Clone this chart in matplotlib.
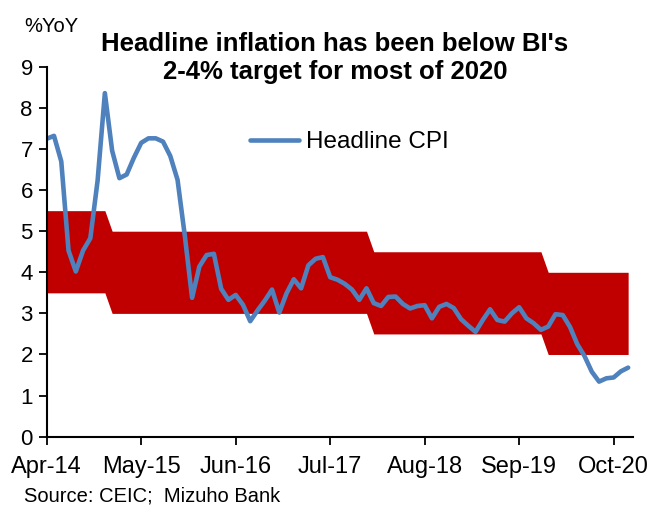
import numpy as np
import pandas as pd
import matplotlib
matplotlib.use("Agg")
import matplotlib.pyplot as plt

plt.rcParams['font.family'] = ['Liberation Sans', 'DejaVu Sans']

# ------------------------------
# Data: Indonesia headline CPI, %YoY, monthly Apr-14 .. Dec-20
# ------------------------------
months = pd.date_range("2014-04-01", periods=81, freq="MS")

cpi_2014 = [7.25, 7.32, 6.70, 4.53, 4.02, 4.53, 4.83, 6.23, 8.36]          # Apr-Dec
cpi_2015 = [6.96, 6.29, 6.38, 6.79, 7.15, 7.26, 7.26, 7.18, 6.83, 6.25, 4.89, 3.38]
cpi_2016 = [4.14, 4.42, 4.45, 3.60, 3.33, 3.45, 3.21, 2.81, 3.07, 3.31, 3.58, 3.02]
cpi_2017 = [3.49, 3.83, 3.61, 4.17, 4.33, 4.37, 3.88, 3.82, 3.72, 3.58, 3.33, 3.61]
cpi_2018 = [3.25, 3.18, 3.40, 3.41, 3.23, 3.12, 3.18, 3.20, 2.88, 3.16, 3.23, 3.13]
cpi_2019 = [2.86, 2.70, 2.55, 2.84, 3.10, 2.84, 2.80, 3.00, 3.15, 2.88, 2.76, 2.60]
cpi_2020 = [2.68, 2.98, 2.96, 2.67, 2.25, 1.96, 1.58, 1.34, 1.42, 1.44, 1.59, 1.68]
headline = cpi_2014 + cpi_2015 + cpi_2016 + cpi_2017 + cpi_2018 + cpi_2019 + cpi_2020

# BI inflation target band (lower / upper), per month
target_lo = [3.5] * 9 + [3.0] * 36 + [2.5] * 24 + [2.0] * 12
target_hi = [5.5] * 9 + [5.0] * 36 + [4.5] * 24 + [4.0] * 12

tick_step = 13
yticks = list(range(0, 10))

# ------------------------------
# Plot
# ------------------------------
x = np.arange(len(months))

fig = plt.figure(figsize=(6.59, 5.18), dpi=100)
ax = fig.add_axes([0.0709, 0.157, 0.890, 0.714])

ax.fill_between(x, target_lo, target_hi, color='#C00000', lw=0)
ax.plot(x, headline, color='#4F81BD', lw=3.3, solid_capstyle='round',
        solid_joinstyle='round', label='Headline CPI')

ax.set_xlim(0, 80.7)
ax.set_ylim(0, 9)
ax.set_yticks(yticks)
tick_pos = x[::tick_step]
ax.set_xticks(tick_pos)
ax.set_xticklabels([d.strftime('%b-%y') for d in months[tick_pos]])

for s in ('top', 'right'):
    ax.spines[s].set_visible(False)
for s in ('left', 'bottom'):
    ax.spines[s].set_linewidth(1.5)
ax.tick_params(axis='both', direction='out', length=6, width=1.3,
               colors='black')
ax.tick_params(axis='x', pad=8, labelsize=17)
ax.tick_params(axis='y', pad=4, labelsize=16)

ax.legend(loc='upper left', bbox_to_anchor=(0.31, 0.885), frameon=False,
          fontsize=17.5, handlelength=2.0, handletextpad=0.3)

fig.text(0.508, 0.888, "Headline inflation has been below BI's\n2-4% target for most of 2020",
         ha='center', va='center', fontsize=18.5, fontweight='bold', linespacing=1.2)
fig.text(0.037, 0.948, "%YoY", ha='left', va='center', fontsize=14.5)
fig.text(0.037, 0.042, "Source: CEIC;  Mizuho Bank", ha='left', va='center',
         fontsize=14.5)

fig.savefig("out.png", dpi=100)
